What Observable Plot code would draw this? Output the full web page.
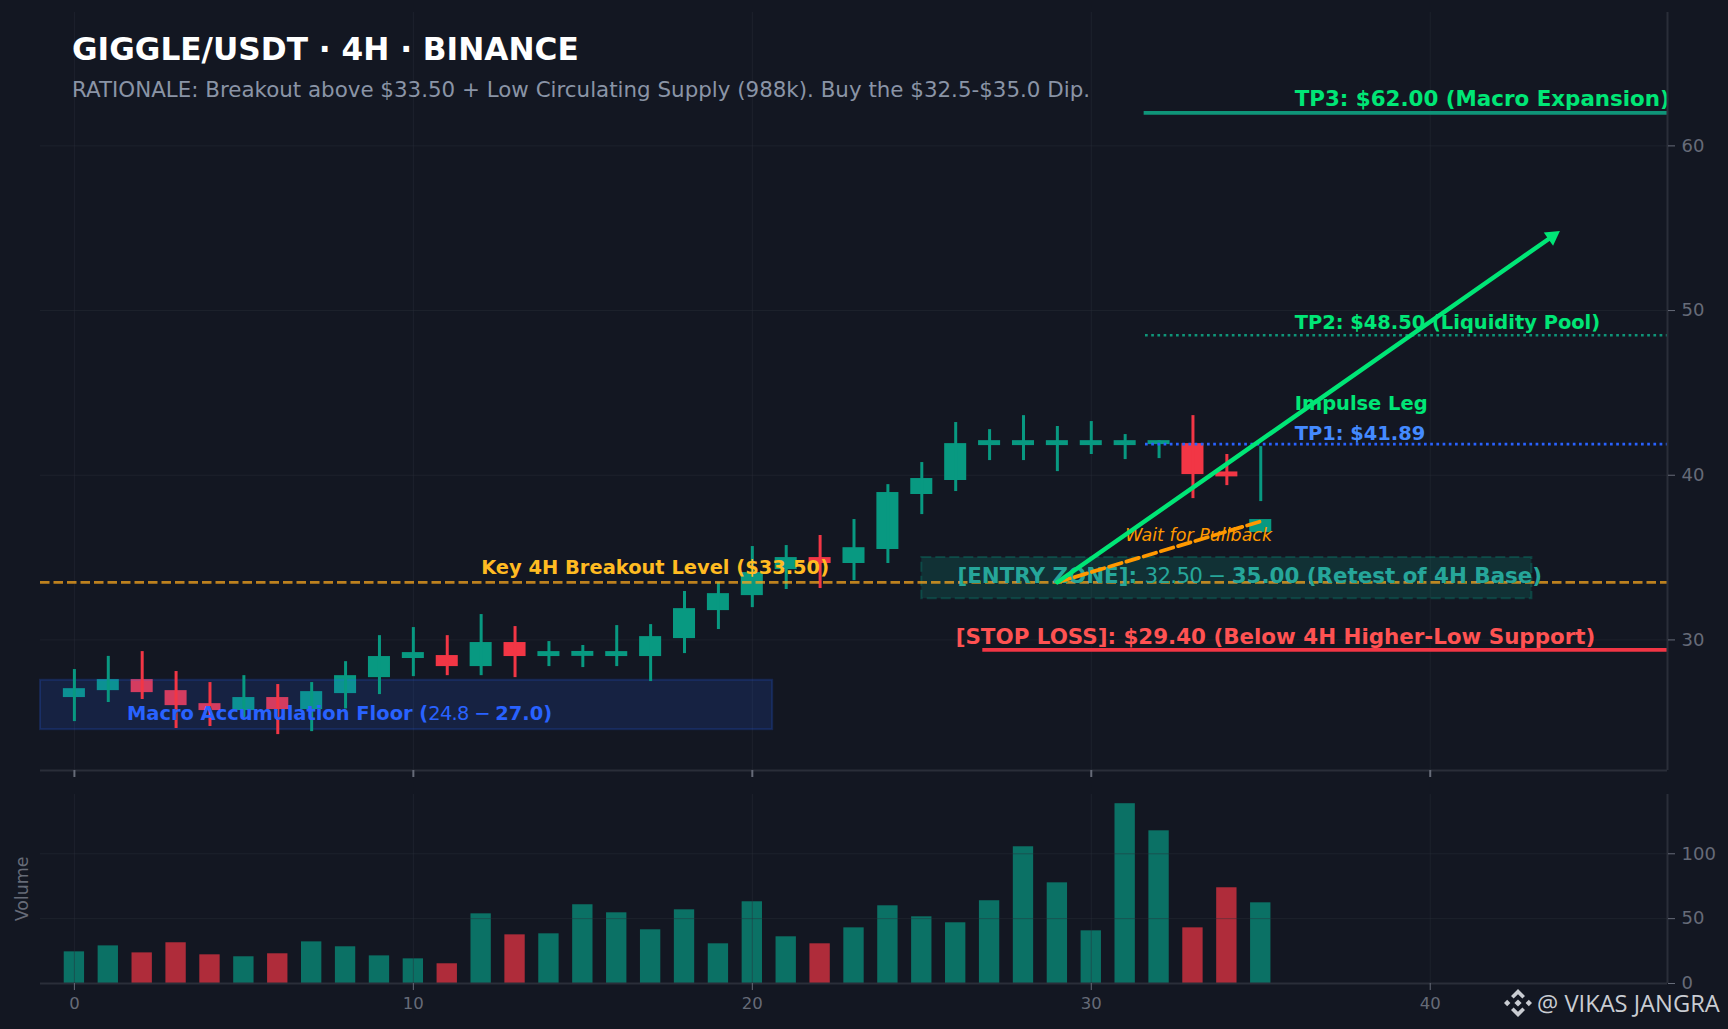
<!DOCTYPE html>
<html>
<head>
<meta charset="utf-8">
<title>GIGGLE/USDT 4H</title>
<script src="https://cdn.jsdelivr.net/npm/d3@7"></script>
<script src="https://cdn.jsdelivr.net/npm/@observablehq/plot@0.6"></script>
<style>
html,body{margin:0;padding:0;background:#131722;width:1728px;height:1029px;overflow:hidden;font-family:"DejaVu Sans",sans-serif}
#wrap{position:relative;width:1728px;height:1029px;background:#131722}
#main,#vol{position:absolute;left:0}
#main{top:0}#vol{top:780px}
#main svg,#vol svg{display:block;background:transparent}
#title{position:absolute;left:72px;top:31px;font:bold 31.2px/36px "DejaVu Sans";color:#fff;white-space:nowrap}
#sub{position:absolute;left:72px;top:78px;font:21.4px/24px "DejaVu Sans";color:#8a94a6;white-space:nowrap}
#mark{position:absolute;left:1504px;top:989px;height:28px;display:flex;align-items:center;gap:5px;color:#c9ccd2;font:23.7px/18px "Open Sans";white-space:nowrap}
</style>
</head>
<body>
<div id="wrap">
  <div id="main"></div>
  <div id="vol"></div>
  <div id="title">GIGGLE/USDT · 4H · BINANCE</div>
  <div id="sub">RATIONALE: Breakout above $33.50 + Low Circulating Supply (988k). Buy the $32.5-$35.0 Dip.</div>
  <div id="mark">
    <svg width="28" height="28" viewBox="0 0 28 28" fill="#c9ccd2"><path d="M14 0l7 7-2.6 2.6L14 5.2 9.6 9.6 7 7z"/><path d="M14 28l7-7-2.6-2.6L14 22.8l-4.4-4.4L7 21z"/><path d="M3.2 10.8L6.4 14l-3.2 3.2L0 14z"/><path d="M24.8 10.8L28 14l-3.2 3.2L21.6 14z"/><path d="M14 10.4l3.6 3.6L14 17.6 10.4 14z"/></svg>
    <span>@ VIKAS JANGRA</span>
  </div>
</div>
<script>
const opens  = [26.5,26.92,27.59,26.92,26.13,25.71,26.5,25.77,26.74,27.71,28.87,29.05,28.38,29.84,28.99,29.0,28.99,28.99,30.08,31.78,32.69,34.27,35.0,34.64,35.49,38.83,39.68,41.8,41.8,41.8,41.8,41.8,41.86,41.92,40.2,36.52];
const closes = [27.04,27.59,26.8,26.01,25.71,26.5,25.77,26.86,27.83,28.99,29.23,28.38,29.84,28.99,29.29,29.3,29.29,30.2,31.9,32.81,34.09,35.0,34.64,35.6,38.95,39.8,41.92,42.1,42.1,42.1,42.1,42.1,42.1,40.04,39.9,37.31];
const highs  = [28.2,29.0,29.29,28.08,27.41,27.83,27.29,27.41,28.68,30.26,30.75,30.26,31.54,30.81,29.9,29.66,30.87,30.93,32.94,33.48,35.67,35.73,36.34,37.31,39.43,40.77,43.2,42.77,43.62,42.96,43.26,42.47,42.1,43.62,41.26,41.74];
const lows   = [25.04,26.2,26.38,24.62,24.74,25.28,24.25,24.43,25.81,26.68,27.77,27.83,27.83,27.71,28.38,28.32,28.38,27.47,29.17,30.63,31.96,33.06,33.12,33.6,34.64,37.61,39.01,40.89,40.89,40.22,41.26,40.95,41.01,38.58,39.37,38.4];
const volumes= [24.4,29,23.6,31.4,22.1,20.6,22.9,32.1,28.3,21.3,19,15.2,53.7,37.5,38.3,60.7,54.5,41.4,56.8,30.6,63,36,30.6,42.9,59.9,51.4,46.8,63.8,105.4,77.6,40.6,138.6,117.7,42.9,73.8,62.2];
const xTicks = [0,10,20,30,40];
const priceTicks = [30,40,50,60];
const volumeTicks = [0,50,100];

const candles = opens.map((o,i)=>({i,o,c:closes[i],h:highs[i],l:lows[i],v:volumes[i]}));
const UP="#089981", DOWN="#f23645", AXIS="#2a2e39", GRID="#2a2e39", TICK="#666b78", FONT='"DejaVu Sans"';
const col = d => d.c>=d.o ? UP : DOWN;
const xDomain=[-1,47];

const bodies = Plot.rect(candles,{x1:d=>d.i-0.325,x2:d=>d.i+0.325,y1:"o",y2:"c",fill:col});
const wicks = Plot.ruleX(candles,{x:"i",y1:"l",y2:"h",stroke:col,strokeWidth:3});
const lab=(t,x,y,color,size,extra={})=>Plot.text([t],{x:()=>x,y:()=>y,text:d=>d,textAnchor:"start",lineAnchor:"bottom",fill:color,fontSize:size,fontWeight:"bold",fontFamily:FONT,...extra});
const hseg=(y,x1,color,width,dash)=>Plot.ruleY([y],{x1:()=>x1,x2:()=>47,stroke:color,strokeWidth:width,strokeDasharray:dash});

const main = Plot.plot({
  width:1728,height:790,marginTop:12,marginBottom:20,marginLeft:40,marginRight:61,
  style:{background:"transparent",fontFamily:FONT},
  x:{domain:xDomain,axis:null},
  y:{domain:[22.07,68.1],axis:null},
  marks:[
    Plot.gridX(xTicks,{stroke:GRID,strokeOpacity:0.45,strokeWidth:1}),
    Plot.gridY(priceTicks,{stroke:GRID,strokeOpacity:0.45,strokeWidth:1}),
    bodies,
    Plot.rect([0],{x1:()=>-1,x2:()=>20.6,y1:()=>24.55,y2:()=>27.55,fill:"#2962ff",fillOpacity:0.15,stroke:"#2962ff",strokeOpacity:0.2,strokeWidth:2}),
    wicks,
    Plot.rect([0],{x1:()=>25,x2:()=>43,y1:()=>32.5,y2:()=>35,fill:"#089981",fillOpacity:0.2,stroke:"#089981",strokeOpacity:0.3,strokeWidth:2,strokeDasharray:"10 4"}),
    Plot.ruleY([33.5],{stroke:"#f7a51e",strokeOpacity:0.75,strokeWidth:2.7,strokeDasharray:"9.5 4"}),
    hseg(29.4,26.8,"#f23645",3.7),
    hseg(62,31.56,"#0f9579",3.7),
    hseg(48.5,31.6,"#0f9579",2.7,"2.7 3.5"),
    hseg(41.89,31.6,"#2962ff",2.7,"2.7 3.5"),
    lab("Key 4H Breakout Level ($33.50)",12,34.03,"#ffbb22",19.45),
    lab("Macro Accumulation Floor (24.8 − 27.0)",1.55,25.14,"#2962ff",19.45),
    lab("[ENTRY ZONE]: 32.50 − 35.00 (Retest of 4H Base)",26.05,33.44,"#26a69a",21.4),
    lab("[STOP LOSS]: $29.40 (Below 4H Higher-Low Support)",26,29.73,"#ff5252",21.4),
    lab("TP3: $62.00 (Macro Expansion)",36,62.45,"#00e676",21.4),
    lab("TP2: $48.50 (Liquidity Pool)",36,48.88,"#00e676",19.45),
    lab("TP1: $41.89",36,42.14,"#448aff",19.45),
    lab("Impulse Leg",36,43.96,"#00e676",19.45),
    lab("Wait for Pullback",31,36.03,"#ff9800",17.5,{fontStyle:"italic",fontWeight:"normal"}),
    Plot.line([[29,33.5],[35,37.2]],{x:d=>d[0],y:d=>d[1],stroke:"#ff9800",strokeWidth:3.8,strokeDasharray:"13 5"}),
    Plot.arrow([0],{x1:()=>29,y1:()=>33.5,x2:()=>43.6,y2:()=>54.5,stroke:"#00e676",strokeWidth:4.4,headLength:1,insetStart:0,insetEnd:0}),
    Plot.dot([0],{x:()=>43.6,y:()=>54.5,symbol:"triangle",r:6,rotate:55,fill:"#00e676"}),
    Plot.ruleY([22.07],{stroke:AXIS,strokeWidth:2}),
    Plot.ruleX([47],{stroke:AXIS,strokeWidth:2}),
    Plot.axisX({ticks:xTicks,tickSize:7,tickFormat:()=>"",stroke:TICK,strokeWidth:2,anchor:"bottom",label:null}),
    Plot.axisY({ticks:priceTicks,anchor:"right",tickSize:7,tickPadding:7,fontSize:18,color:TICK,label:null})
  ]
});
document.getElementById("main").appendChild(main);

const vol = Plot.plot({
  width:1728,height:249,marginTop:14,marginBottom:46,marginLeft:40,marginRight:61,
  style:{background:"transparent",fontFamily:FONT},
  x:{domain:xDomain,axis:null},
  y:{domain:[0,145.7],axis:null},
  marks:[
    Plot.rect(candles,{x1:d=>d.i-0.3,x2:d=>d.i+0.3,y1:()=>0,y2:"v",fill:col,fillOpacity:0.7}),
    Plot.gridX(xTicks,{stroke:GRID,strokeOpacity:0.45,strokeWidth:1}),
    Plot.gridY([50,100],{stroke:GRID,strokeOpacity:0.45,strokeWidth:1}),
    Plot.ruleY([0],{stroke:AXIS,strokeWidth:2}),
    Plot.ruleX([47],{stroke:AXIS,strokeWidth:2}),
    Plot.text(["Volume"],{frameAnchor:"left",dx:-18,rotate:-90,textAnchor:"middle",text:d=>d,fill:TICK,fontSize:17.4,fontFamily:FONT}),
    Plot.axisX({ticks:xTicks,tickSize:7,tickPadding:7,fontSize:16.5,color:TICK,anchor:"bottom",label:null}),
    Plot.axisY({ticks:volumeTicks,anchor:"right",tickSize:7,tickPadding:7,fontSize:18,color:TICK,label:null})
  ]
});
document.getElementById("vol").appendChild(vol);

// mathtext segments of the two labels are set in regular weight
const regularParts=[/^(Macro Accumulation Floor \()(24\.8 − )(27\.0\))$/,/^(\[ENTRY ZONE\]: )(32\.50 − )(35\.00 \(Retest of 4H Base\))$/];
d3.select(main).selectAll("text").each(function(){
  const t=this.textContent;
  for(const re of regularParts){
    const m=t.match(re);
    if(m){
      this.textContent="";
      m.slice(1).forEach((s,k)=>{
        const sp=document.createElementNS("http://www.w3.org/2000/svg","tspan");
        sp.textContent=s; sp.style.whiteSpace="pre";
        if(k===1){ sp.setAttribute("font-weight","normal"); sp.setAttribute("letter-spacing","-0.7"); }
        this.appendChild(sp);
      });
    }
  }
});
</script>
</body>
</html>
